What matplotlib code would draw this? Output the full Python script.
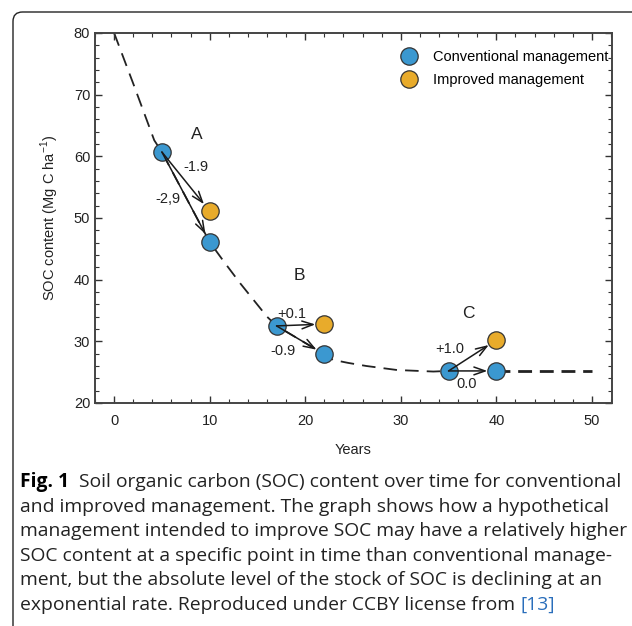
"""SOC content over time, conventional vs improved management"""

import matplotlib
matplotlib.use("Agg")
import matplotlib.pyplot as plt
from matplotlib.patches import FancyBboxPatch
from matplotlib.ticker import MultipleLocator

# dashed trajectory of conventional management
curve_years = [0, 2, 4.2, 5, 10, 11.5, 13.2, 16, 17, 22, 22.9, 24.5, 26.4, 29.6, 33.4, 35]
curve_soc = [80, 71.8, 62.6, 60.7, 46.1, 42.9, 39.4, 34.0, 32.5, 27.9, 27.0, 26.5, 26.0, 25.35, 25.1, 25.2]
tail_years = [40, 50]
tail_soc = [25.2, 25.2]

# points
conv_years = [5, 10, 17, 22, 35, 40]
conv_soc = [60.7, 46.1, 32.5, 27.9, 25.2, 25.2]
impr_years = [10, 22, 40]
impr_soc = [51.1, 32.8, 30.2]

# arrows: (start, end)
arrow_pairs = [
    ((5, 60.7), (10, 51.1)),
    ((5, 60.7), (10, 46.1)),
    ((17, 32.5), (22, 32.8)),
    ((17, 32.5), (22, 27.9)),
    ((35, 25.2), (40, 30.2)),
    ((35, 25.2), (40, 25.2)),
]
change_labels = ["-1.9", "-2,9", "+0.1", "-0.9", "+1.0", "0.0"]
change_pos = [(8.6, 58.2), (5.6, 53.0), (18.6, 34.5), (17.7, 28.5), (35.1, 28.8), (36.9, 23.1)]
group_labels = ["A", "B", "C"]
group_pos = [(8.6, 63.5), (19.35, 40.6), (37.1, 34.5)]

caption_lines = [
    "Soil organic carbon (SOC) content over time for conventional",
    "and improved management. The graph shows how a hypothetical",
    "management intended to improve SOC may have a relatively higher",
    "SOC content at a specific point in time than conventional manage-",
    "ment, but the absolute level of the stock of SOC is declining at an",
    "exponential rate. Reproduced under CCBY license from ",
]

BLUE = "#3b98d0"
YELLOW = "#e8ab2b"
EDGE = "#333333"
W, H = 632, 626

plt.rcParams["font.family"] = ["Liberation Sans", "DejaVu Sans"]

fig = plt.figure(figsize=(W / 100, H / 100), dpi=100)


def px(x, y):
    return x / W, 1 - y / H


# rounded frame around figure
frame = FancyBboxPatch(px(13, 650), 700 / W, 638 / H,
                       boxstyle="round,pad=0,rounding_size=0.015",
                       transform=fig.transFigure, fill=False,
                       edgecolor="#222222", linewidth=1.0)
fig.add_artist(frame)

left, top = px(95, 33)
right, bottom = px(612, 403)
ax = fig.add_axes([left, bottom, right - left, top - bottom])

ax.plot(curve_years, curve_soc, color="#222222", lw=1.3, dashes=(7.5, 4.5), zorder=1)
ax.plot(tail_years, tail_soc, color="#222222", lw=2.0, dashes=(5, 2.8), zorder=1)

for (x0, y0), (x1, y1) in arrow_pairs:
    ax.annotate("", xy=(x1, y1), xytext=(x0, y0),
                arrowprops=dict(arrowstyle="->,head_length=0.8,head_width=0.28",
                                color="#1a1a1a", lw=1.1, shrinkA=0, shrinkB=6.5),
                zorder=4)

ax.plot(conv_years, conv_soc, "o", ms=12.5, mfc=BLUE, mec=EDGE, mew=0.9,
        zorder=3, label="Conventional management")
ax.plot(impr_years, impr_soc, "o", ms=12.5, mfc=YELLOW, mec=EDGE, mew=0.9,
        zorder=3, label="Improved management")

for txt, (x, y) in zip(change_labels, change_pos):
    ax.text(x, y, txt, fontsize=10.5, ha="center", va="center", color="#222222", zorder=5)
for txt, (x, y) in zip(group_labels, group_pos):
    ax.text(x, y, txt, fontsize=12.5, ha="center", va="center", color="#222222")

ax.set_xlim(-2, 52.1)
ax.set_ylim(20, 80)
ax.xaxis.set_major_locator(MultipleLocator(10))
ax.xaxis.set_minor_locator(MultipleLocator(2))
ax.yaxis.set_major_locator(MultipleLocator(10))
ax.yaxis.set_minor_locator(MultipleLocator(2))
ax.tick_params(which="both", direction="in", top=True, right=True,
               color="#333333", labelsize=10.5, labelcolor="#222222")
ax.tick_params(which="major", length=5, width=1)
ax.tick_params(which="minor", length=3, width=0.8)
ax.tick_params(axis="x", pad=8)
for sp in ax.spines.values():
    sp.set_color("#444444")
    sp.set_linewidth(1.4)

ax.set_xlabel("Years", fontsize=10.5, labelpad=11, color="#222222")
ax.set_ylabel("SOC content (Mg C ha$^{\\mathregular{-1}}$)", fontsize=10.5,
              labelpad=9, color="#222222")

leg = ax.legend(loc="upper left", bbox_to_anchor=px(402, 50), bbox_transform=fig.transFigure,
                frameon=False, fontsize=10.5, handlelength=1.0, handletextpad=1.1,
                borderpad=0, labelspacing=0.62, borderaxespad=0)

# caption
cap_font = ["Open Sans", "DejaVu Sans"]
cap_size = 13.9
y0 = 482
dy = 24.6
fig.canvas.draw()
renderer = fig.canvas.get_renderer()
fig_lbl = fig.text(*px(20, y0), "Fig. 1", family=cap_font, fontsize=cap_size,
                   weight="bold", va="center", ha="left")
bb = fig_lbl.get_window_extent(renderer)
fig.text(bb.x1 / W + 10 / W, px(0, y0)[1], caption_lines[0], family=cap_font,
         fontsize=cap_size, va="center", ha="left", color="#222222")
for i, line in enumerate(caption_lines[1:], start=1):
    t = fig.text(*px(20, y0 + i * dy), line, family=cap_font, fontsize=cap_size,
                 va="center", ha="left", color="#222222")
bb = t.get_window_extent(renderer)
fig.text(bb.x1 / W, px(0, y0 + 5 * dy)[1], "[13]", family=cap_font, fontsize=cap_size,
         va="center", ha="left", color="#2a6ebb")

fig.savefig("out.png", dpi=100)
